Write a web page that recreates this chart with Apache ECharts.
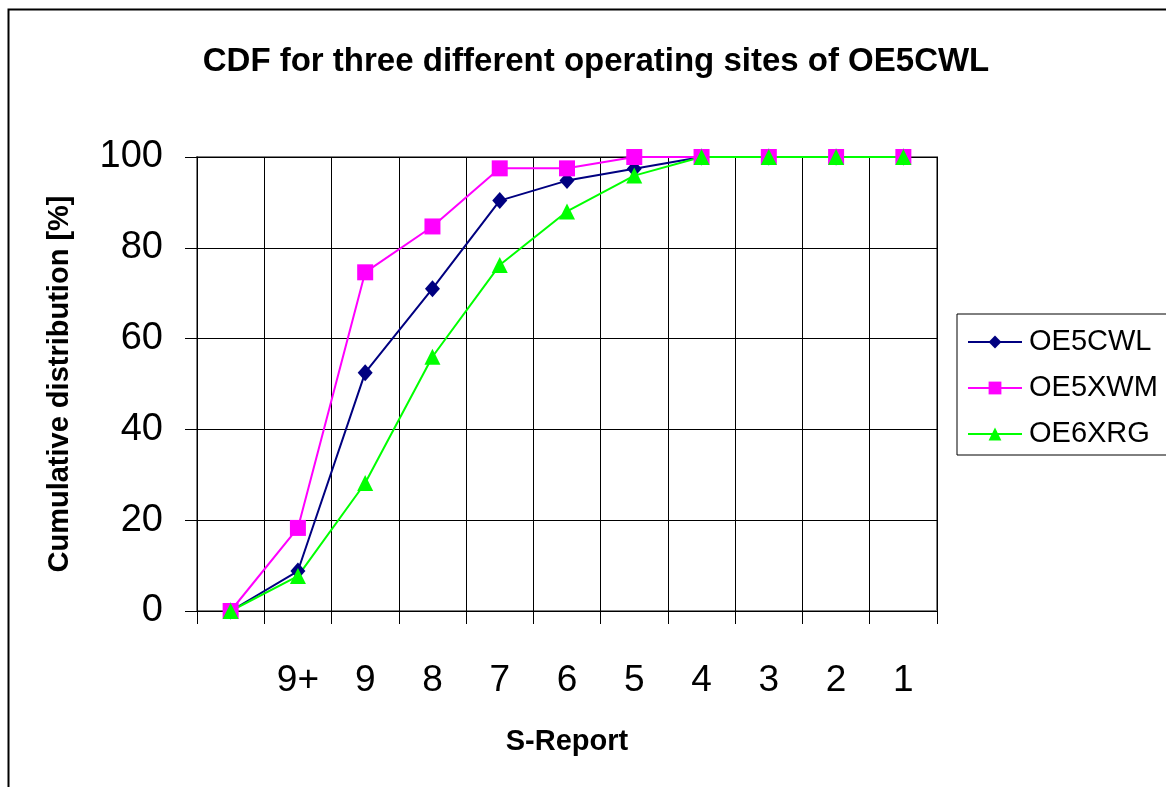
<!DOCTYPE html>
<html>
<head>
<meta charset="utf-8">
<title>CDF for three different operating sites of OE5CWL</title>
<script src="https://cdn.jsdelivr.net/npm/echarts@6/dist/echarts.min.js"></script>
<style>
  html, body { margin: 0; padding: 0; background: #fff; }
  #chart { width: 1166px; height: 787px; }
</style>
</head>
<body>
<div id="chart"></div>
<script>
// S-Report categories (first slot has no label)
var categories = ['', '9+', '9', '8', '7', '6', '5', '4', '3', '2', '1'];
// cumulative distribution [%]
var oe5cwl = [0, 8.8, 52.5, 71, 90.4, 94.8, 97.4, 100, 100, 100, 100];
var oe5xwm = [0, 18.3, 74.6, 84.7, 97.5, 97.5, 100, 100, 100, 100, 100];
var oe6xrg = [0, 7.7, 28.2, 56, 76.2, 88, 95.9, 100, 100, 100, 100];
var yTicks = [0, 20, 40, 60, 80, 100];

var FONT = '"Liberation Sans", Arial, sans-serif';

var chart = echarts.init(document.getElementById('chart'));

function makeSeries(name, data, color, symbol, size) {
	return {
		name: name,
		type: 'line',
		data: data,
		symbol: symbol,
		symbolSize: size,
		showSymbol: true,
		lineStyle: { color: color, width: 2 },
		itemStyle: { color: color },
		emphasis: { disabled: true },
		animation: false
	};
}

var option = {
	backgroundColor: '#fff',
	animation: false,
	title: {
		text: 'CDF for three different operating sites of OE5CWL',
		left: 591,
		top: 40,
		textAlign: 'center',
		textStyle: { fontFamily: FONT, fontSize: 33, fontWeight: 'bold', color: '#000' }
	},
	legend: {
		orient: 'vertical',
		left: 957,
		top: 314,
		padding: [13, 60, 6, 10],
		itemWidth: 54,
		itemHeight: 16,
		itemGap: 16,
		borderColor: '#000',
		borderWidth: 1,
		data: ['OE5CWL', 'OE5XWM', 'OE6XRG'],
		textStyle: { fontFamily: FONT, fontSize: 29, color: '#000', lineHeight: 30, padding: [0, 0, 0, 2] }
	},
	grid: {
		left: 197,
		top: 157,
		width: 740,
		height: 454,
		show: true,
		borderColor: '#808080',
		borderWidth: 2,
		backgroundColor: 'transparent',
		outerBoundsMode: 'none'
	},
	xAxis: {
		type: 'category',
		data: categories,
		boundaryGap: true,
		name: 'S-Report',
		nameLocation: 'middle',
		nameGap: 116,
		nameTextStyle: { fontFamily: FONT, fontSize: 29, fontWeight: 'bold', color: '#000' },
		axisLine: { lineStyle: { color: '#000', width: 1 } },
		axisTick: { show: true, interval: 0, length: 13, lineStyle: { color: '#000' } },
		axisLabel: { interval: 0, margin: 51, fontFamily: FONT, fontSize: 37, color: '#000' },
		splitLine: { show: true, interval: 0, lineStyle: { color: '#000', width: 1 } }
	},
	yAxis: {
		type: 'value',
		min: yTicks[0],
		max: yTicks[yTicks.length - 1],
		interval: yTicks[1] - yTicks[0],
		name: 'Cumulative distribution [%]',
		nameLocation: 'middle',
		nameGap: 123,
		nameTextStyle: { fontFamily: FONT, fontSize: 29, fontWeight: 'bold', color: '#000' },
		axisLine: { show: true, lineStyle: { color: '#000', width: 1 } },
		axisTick: { show: true, length: 12, lineStyle: { color: '#000' } },
		axisLabel: { margin: 34, fontFamily: FONT, fontSize: 38, color: '#000' },
		splitLine: { show: true, lineStyle: { color: '#000', width: 1 } }
	},
	series: [
		makeSeries('OE5CWL', oe5cwl, '#000080', 'diamond', [15, 17]),
		makeSeries('OE5XWM', oe5xwm, '#FF00FF', 'rect', 16),
		makeSeries('OE6XRG', oe6xrg, '#00FF00', 'triangle', 16)
	],
	graphic: [
		{
			// outer chart-area frame (right and bottom run off the picture)
			type: 'rect',
			left: 6,
			top: 7,
			shape: { width: 1200, height: 900 },
			style: { fill: 'none', stroke: '#000', lineWidth: 2 },
			silent: true
		}
	]
};

chart.setOption(option);
</script>
</body>
</html>
